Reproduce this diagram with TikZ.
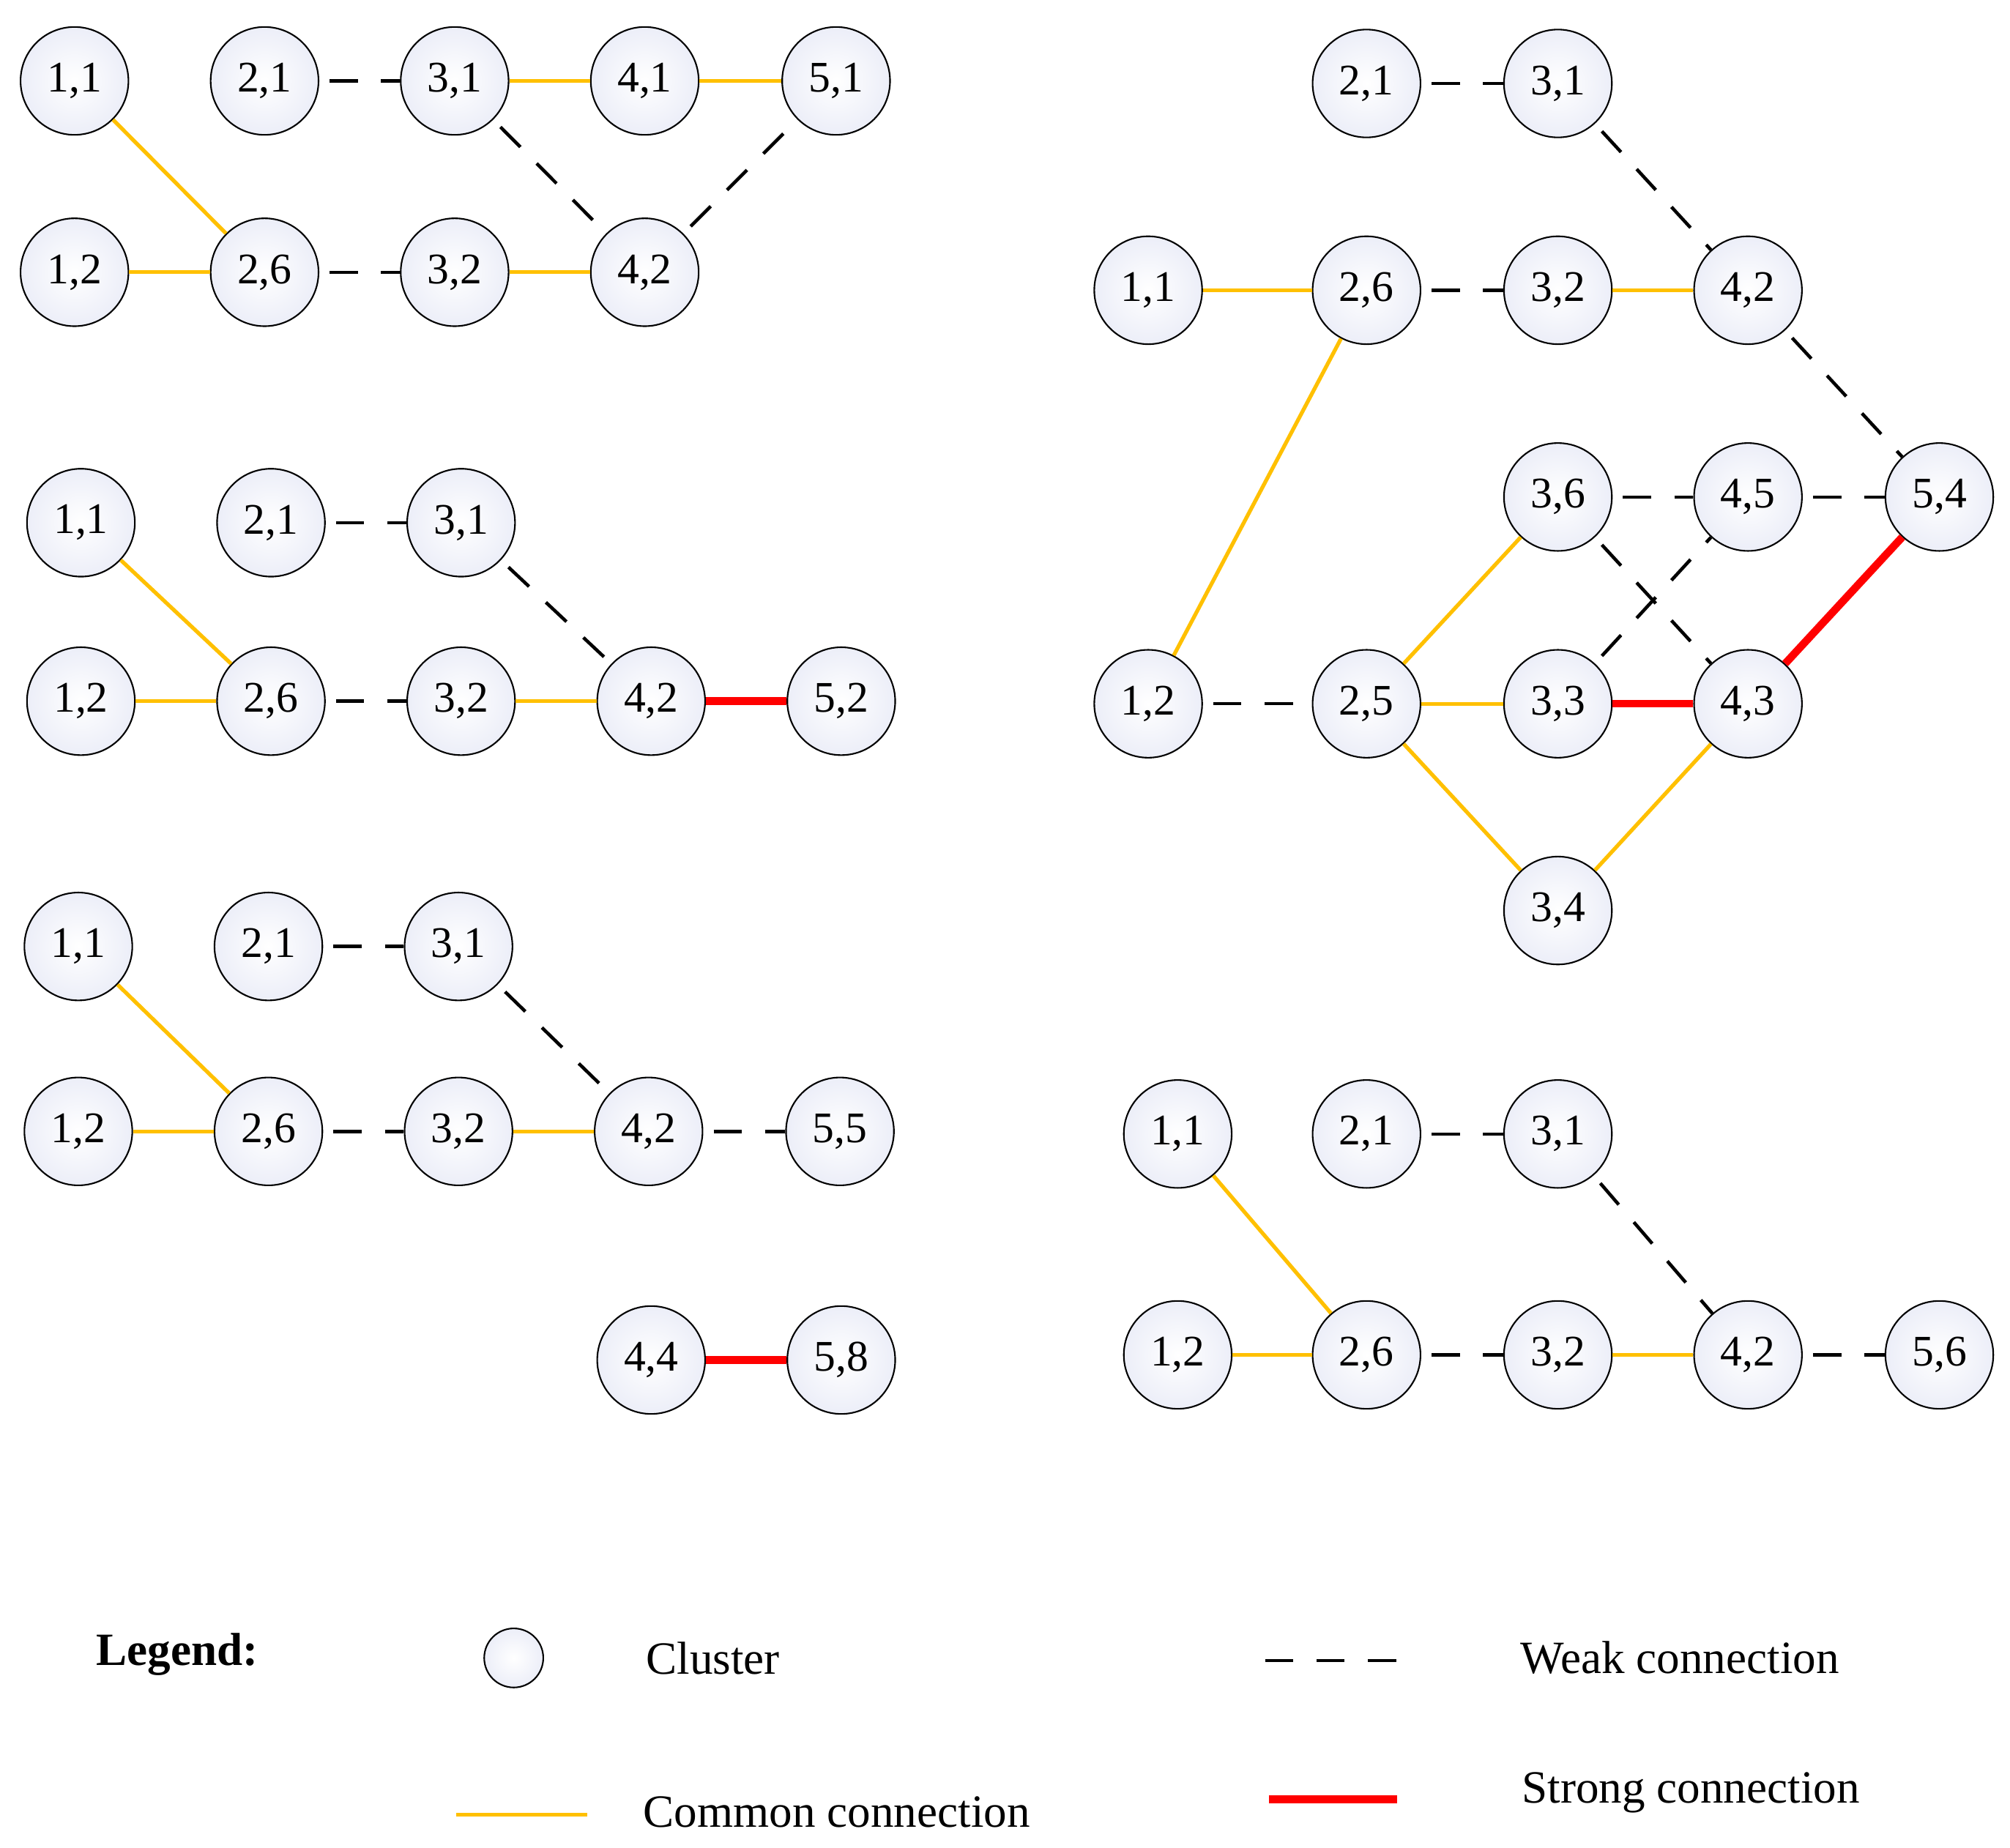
\documentclass[tikz,border=0pt]{standalone}
\usepackage{fontspec}
\setmainfont{Liberation Serif}
\begin{document}
\begin{tikzpicture}[x=0.5pt,y=-0.5pt,
  cl/.style={circle,draw=black,line width=0.6pt,minimum size=42pt,inner sep=0pt,inner color=white,outer color={rgb,255:red,236;green,238;blue,248},font=\fontsize{17}{20}\selectfont},
  Y/.style={draw={rgb,255:red,255;green,192;blue,0},line width=1.5pt},
  D/.style={draw=black,line width=1.3pt,dash pattern=on 11pt off 9pt,dash phase=-4pt},
  R/.style={draw=red,line width=3pt},
  lg/.style={font=\fontsize{18}{22}\selectfont,anchor=west}]
\useasboundingbox (0,0) rectangle (1565,1439);
% panel a
\foreach \n/\x/\y in {11/58/63,21/206/63,31/354/63,41/502/63,51/651/63,12/58/212,26/206/212,32/354/212,42/502/212}
  \node[cl] (a\n) at (\x,\y) {\pgfmathparse{int(\n/10)}\pgfmathresult,\pgfmathparse{int(mod(\n,10))}\pgfmathresult};
\foreach \s/\a/\b in {Y/11/26,Y/12/26,D/21/31,Y/31/41,Y/41/51,D/31/42,D/42/51,D/26/32,Y/32/42}
  \path[\s] (a\a) -- (a\b);
% panel b
\foreach \n/\x/\y in {11/63/407,21/211/407,31/359/407,12/63/546,26/211/546,32/359/546,42/507/546,52/655/546}
  \node[cl] (b\n) at (\x,\y) {\pgfmathparse{int(\n/10)}\pgfmathresult,\pgfmathparse{int(mod(\n,10))}\pgfmathresult};
\foreach \s/\a/\b in {Y/11/26,Y/12/26,D/21/31,D/31/42,D/26/32,Y/32/42,R/42/52}
  \path[\s] (b\a) -- (b\b);
% panel c
\foreach \n/\x/\y in {11/61/737,21/209/737,31/357/737,12/61/881,26/209/881,32/357/881,42/505/881,55/654/881,44/507/1059,58/655/1059}
  \node[cl] (c\n) at (\x,\y) {\pgfmathparse{int(\n/10)}\pgfmathresult,\pgfmathparse{int(mod(\n,10))}\pgfmathresult};
\foreach \s/\a/\b in {Y/11/26,Y/12/26,D/21/31,D/31/42,D/26/32,Y/32/42,D/42/55,R/44/58}
  \path[\s] (c\a) -- (c\b);
% panel d
\foreach \n/\x/\y in {21/1064/65,31/1213/65,11/894/226,26/1064/226,32/1213/226,42/1361/226,36/1213/387,45/1361/387,54/1510/387,12/894/548,25/1064/548,33/1213/548,43/1361/548,34/1213/709}
  \node[cl] (d\n) at (\x,\y) {\pgfmathparse{int(\n/10)}\pgfmathresult,\pgfmathparse{int(mod(\n,10))}\pgfmathresult};
\foreach \s/\a/\b in {D/21/31,D/31/42,Y/11/26,D/26/32,Y/32/42,D/42/54,Y/12/26,D/12/25,Y/25/36,Y/25/33,Y/25/34,D/36/45,D/45/54,D/36/43,D/33/45,R/33/43,R/43/54,Y/34/43}
  \path[\s] (d\a) -- (d\b);
% panel e
\foreach \n/\x/\y in {11/917/883,21/1064/883,31/1213/883,12/917/1055,26/1064/1055,32/1213/1055,42/1361/1055,56/1510/1055}
  \node[cl] (e\n) at (\x,\y) {\pgfmathparse{int(\n/10)}\pgfmathresult,\pgfmathparse{int(mod(\n,10))}\pgfmathresult};
\foreach \s/\a/\b in {Y/11/26,Y/12/26,D/21/31,D/31/42,D/26/32,Y/32/42,D/42/56}
  \path[\s] (e\a) -- (e\b);
% legend
\node[lg,font=\fontsize{18}{22}\selectfont\bfseries] (lt) at (68,1288) {Legend:};
\node[cl,minimum size=23pt] (lc) at (400,1291) {};
\node[lg] (lct) at (496,1291) {Cluster};
\coordinate (w1) at (985,1293); \coordinate (w2) at (1087,1293);
\path[D,dash phase=0pt] (w1) -- (w2);
\node[lg] (lw) at (1177,1291) {Weak connection};
\coordinate (y1) at (355,1413); \coordinate (y2) at (457,1413);
\path[Y] (y1) -- (y2);
\node[lg] (ly) at (494,1411) {Common connection};
\coordinate (r1) at (988,1401); \coordinate (r2) at (1088,1401);
\path[R] (r1) -- (r2);
\node[lg] (lr) at (1178,1396) {Strong connection};
\end{tikzpicture}
\end{document}
